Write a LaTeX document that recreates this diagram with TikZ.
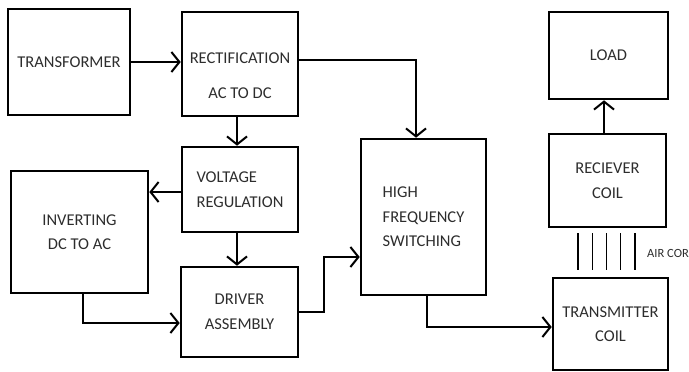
\documentclass[tikz,border=0pt]{standalone}
\usepackage{fontspec}
\setmainfont{Carlito}
\usetikzlibrary{arrows.meta, positioning, calc}
\definecolor{inkgray}{RGB}{45,45,45}

\begin{document}
\begin{tikzpicture}[x=1pt, y=-1pt,
    block/.style={draw=black, line width=2.6pt, inner sep=0pt, align=center,
        text=inkgray, font=\fontsize{16.5}{24.5}\selectfont},
    txt/.style={inner sep=0pt, align=center, text=inkgray, font=\fontsize{16.5}{24.5}\selectfont},
    flow/.style={-{Straight Barb[length=8pt, width=20pt]}, line width=2pt},
    airline/.style={line width=1.2pt}]
    \useasboundingbox (0,0) rectangle (689,372);

    \node[block, minimum width=122pt, minimum height=106pt] (trans) at (69,62) {TRANSFORMER};
    \node[block, minimum width=116pt, minimum height=104pt] (rect) at (240,64) {};
    \node[txt] (recttxt) at ([yshift=-11.5pt]rect.center) {RECTIFICATION\\[10pt]AC TO DC};
    \node[block, minimum width=116pt, minimum height=85pt, align=left] (volt) at (240,189.5) {VOLTAGE\\REGULATION};
    \node[block, minimum width=137pt, minimum height=122pt] (inv) at (79.5,232) {INVERTING\\DC TO AC};
    \node[block, minimum width=117pt, minimum height=90pt] (drv) at (239.5,312) {DRIVER\\ASSEMBLY};
    \node[block, minimum width=125pt, minimum height=156pt, align=left] (hf) at (423.5,217) {HIGH\\FREQUENCY\\SWITCHING};
    \node[block, minimum width=119pt, minimum height=87pt] (load) at (608.5,55.5) {LOAD};
    \node[block, minimum width=117pt, minimum height=93pt] (rx) at (607.5,180.5) {RECIEVER\\COIL};
    \node[block, minimum width=115pt, minimum height=92pt] (tx) at (610.5,324) {TRANSMITTER\\COIL};

    \draw[flow] (trans.east) -- (rect.west |- trans.east);
    \draw[flow] ([yshift=4pt]rect.east) -| ([xshift=-7.5pt]hf.north);
    \draw[flow] ([xshift=-3pt]rect.south) -- ([xshift=-3pt]volt.north);
    \draw[flow] ([yshift=-2.5pt]volt.west) -- ([yshift=-2.5pt]volt.west -| inv.east);
    \draw[flow] ([xshift=-3pt]volt.south) -- ([xshift=-2.5pt]drv.north);
    \draw[flow] ([xshift=3.5pt]inv.south) |- ([yshift=-11pt]drv.west);
    \draw[flow] (drv.east) -- ++(25,0) |- ([yshift=-40pt]hf.west);
    \draw[flow] ([xshift=3.5pt]hf.south) |- ([yshift=-3pt]tx.west);
    \draw[flow] ([xshift=-3.5pt]rx.north) -- ([xshift=-4.5pt]load.south);

    % air gap between the coils
    \foreach \k in {0,...,4}
        \draw[airline] (578+14.25*\k, 233) -- ++(0,37);
    \node[anchor=west, inner sep=0pt, text=inkgray, font=\fontsize{12.5}{15}\selectfont] (aircore) at (647,253) {AIR COR};
\end{tikzpicture}
\end{document}
